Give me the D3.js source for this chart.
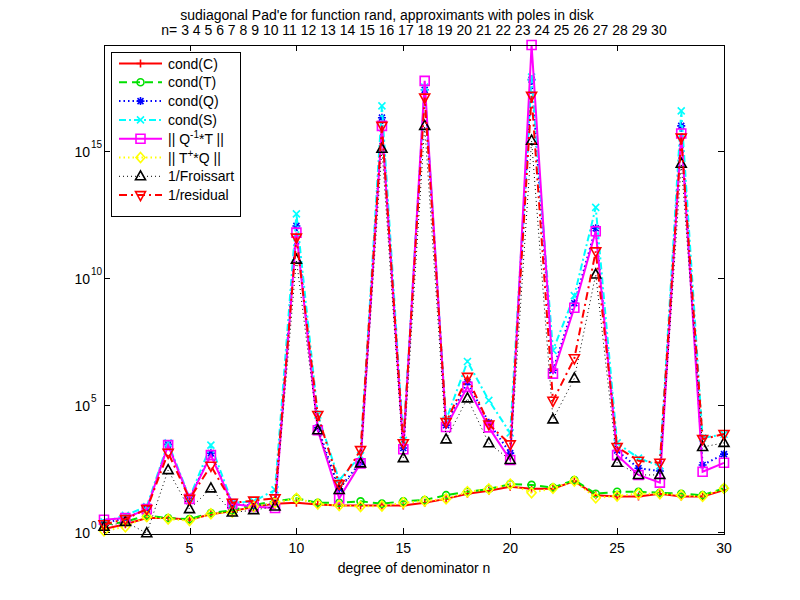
<!DOCTYPE html>
<html>
<head>
<meta charset="utf-8">
<script src="https://cdn.jsdelivr.net/npm/d3@7/dist/d3.min.js"></script>
<style>
body { margin: 0; background: #fff; }
text { font-family: "Liberation Sans", Arial, Helvetica, sans-serif; font-size: 14px; fill: #000; }
</style>
</head>
<body>
<svg width="800" height="600"></svg>
<script>
// degree of denominator n
var degree = [1, 2, 3, 4, 5, 6, 7, 8, 9, 10, 11, 12, 13, 14, 15, 16, 17, 18, 19, 20, 21, 22, 23, 24, 25, 26, 27, 28, 29, 30];

// values (log axis)
var condC = [1.3, 2.0, 3.5, 3.5, 3.0, 5.0, 6.6, 9.5, 13, 14, 12, 11, 11, 11, 11, 14, 20, 32, 42, 60, 50, 50, 100, 28, 25, 25, 32, 25, 25, 45];
var condT = [1.9, 2.5, 4.5, 3.5, 3.2, 5.6, 7.1, 11.5, 16, 21, 14, 14, 16, 13, 16, 18, 28, 38, 49, 76, 71, 56, 110, 32, 38, 38, 35, 32, 28, 52];
var condQ = [2.2, 3.5, 7.9, 2.8e3, 20, 1.26e3, 12.6, 11, 12.6, 1.1e12, 1.26e4, 50, 560, 2.0e16, 2.0e3, 2.5e17, 1.6e4, 7.9e5, 2.0e4, 1.26e3, 6.3e17, 2.3e6, 1e9, 8.9e11, 1.6e3, 320, 250, 9.5e15, 430, 1.15e3];
var condS = [2.5, 4.5, 10, 3.2e3, 22, 2.6e3, 14, 16, 45, 3.3e12, 4e4, 110, 1e3, 5.8e16, 4e3, 3.2e17, 2.5e4, 5.1e6, 1.5e5, 7.9e3, 7.9e17, 1.4e7, 2e9, 5.9e12, 3.2e3, 800, 400, 3.7e16, 5e3, 7e3];
var normQinvT = [3.0, 3.5, 7.9, 2.6e3, 20, 1.05e3, 12.6, 10, 8.7, 6.0e11, 1.0e4, 21, 500, 9.5e15, 1.8e3, 5.6e17, 1.35e4, 5.1e5, 1.3e4, 680, 1.45e19, 1.7e6, 6.6e8, 6.8e11, 1.05e3, 175, 87, 4.8e15, 235, 525];
var normTplusQ = [1.1, 1.6, 4.0, 3.2, 2.8, 5.2, 6.0, 10, 14, 21, 12.6, 11, 10, 10.5, 14, 16.6, 20, 38, 49, 76, 35, 52, 100, 22, 26, 32, 32, 28, 25, 52];
var invFroissart = [1.6, 2.5, 0.89, 270, 7.9, 52, 5.8, 7.2, 10, 5.2e10, 1e4, 45, 500, 1.2e15, 800, 9.5e15, 4.4e3, 1.8e5, 3.1e3, 680, 2.5e15, 2.7e4, 1.1e6, 1.35e10, 525, 175, 175, 3.1e14, 2.2e3, 3.2e3];
var invResidual = [2.0, 3.2, 7.9, 1.3e3, 20, 400, 14, 17, 21, 3.8e11, 4e4, 76, 1.66e3, 9.5e15, 3.1e3, 1.23e17, 2.1e4, 1.26e6, 1.7e4, 2.8e3, 1.45e17, 1.45e5, 6.8e6, 1.1e11, 2.2e3, 630, 525, 3.3e15, 4.5e3, 7.1e3];

var xTicks = [5, 10, 15, 20, 25, 30];
var yTicks = [1, 1e5, 1e10, 1e15];
var yTickExp = ["0", "5", "10", "15"];

var titleLine1 = "sudiagonal Pad'e for function rand, approximants with poles in disk";
var titleLine2 = "n= 3 4 5 6 7 8 9 10 11 12 13 14 15 16 17 18 19 20 21 22 23 24 25 26 27 28 29 30";

// plot box (matlab default axes position)
var boxL = 104, boxR = 724, boxT = 45, boxB = 534;

// marker shapes drawn around 0,0
var markers = {
    plus: "M-4,0H4M0,-4V4",
    circle: "M3.5,0A3.5,3.5 0 1,1 -3.5,0A3.5,3.5 0 1,1 3.5,0Z",
    star: "M-4,0H4M0,-4V4M-3,-3L3,3M-3,3L3,-3",
    cross: "M-3.5,-3.5L3.5,3.5M-3.5,3.5L3.5,-3.5",
    square: "M-4.5,-4.5H4.5V4.5H-4.5Z",
    diamond: "M0,-5L4.5,0L0,5L-4.5,0Z",
    triUp: "M0,-5.5L5,3.5H-5Z",
    triDown: "M0,5.5L5,-3.5H-5Z"
};

// series in plot order, style kept apart from the values
var series = [
    { label: "cond(C)", values: condC, color: "#ff0000", dash: null, width: 2, marker: "plus" },
    { label: "cond(T)", values: condT, color: "#00e000", dash: "8,5", width: 2, marker: "circle" },
    { label: "cond(Q)", values: condQ, color: "#0000ff", dash: "1.5,3", width: 2, marker: "star" },
    { label: "cond(S)", values: condS, color: "#00ffff", dash: "7,3,2,3", width: 2, marker: "cross" },
    { label: "QinvT", values: normQinvT, color: "#ff00ff", dash: null, width: 2, marker: "square" },
    { label: "TplusQ", values: normTplusQ, color: "#ffff00", dash: "1.5,3", width: 2, marker: "diamond" },
    { label: "1/Froissart", values: invFroissart, color: "#000000", dash: "1,3", width: 1, marker: "triUp" },
    { label: "1/residual", values: invResidual, color: "#ff0000", dash: "8,4,2,4", width: 2, marker: "triDown" }
];

var xScale = d3.scaleLinear()
            .domain([1, 30])
            .range([boxL, boxR]);
var yScale = d3.scaleLog()
            .domain([0.83, 1.45e19])
            .range([boxB, boxT]);

var svg = d3.select("svg");

svg.append("rect")
    .attr("width", 800)
    .attr("height", 600)
    .attr("fill", "#fff");

// tick marks inside the box, on all four sides
var ticks = svg.append("g").attr("stroke", "#000").attr("stroke-width", 1);
xTicks.forEach(function(t) {
    var x = Math.round(xScale(t)) + 0.5;
    ticks.append("line").attr("x1", x).attr("x2", x).attr("y1", boxB).attr("y2", boxB - 6);
    ticks.append("line").attr("x1", x).attr("x2", x).attr("y1", boxT).attr("y2", boxT + 6);
});
yTicks.forEach(function(t) {
    var y = Math.round(yScale(t)) + 0.5;
    ticks.append("line").attr("x1", boxL).attr("x2", boxL + 6).attr("y1", y).attr("y2", y);
    ticks.append("line").attr("x1", boxR).attr("x2", boxR - 6).attr("y1", y).attr("y2", y);
});

// tick labels
svg.append("g")
    .selectAll("text")
    .data(xTicks)
    .enter()
    .append("text")
        .attr("x", d => xScale(d))
        .attr("y", boxB + 19)
        .style("text-anchor", "middle")
        .text(d => d);

var yLab = svg.append("g")
    .selectAll("g")
    .data(yTicks)
    .enter()
    .append("g")
        .attr("transform", d => "translate(0," + yScale(d) + ")");
yLab.append("text")
    .attr("x", 90)
    .attr("y", 6)
    .style("text-anchor", "end")
    .text("10");
yLab.append("text")
    .attr("x", 91)
    .attr("y", -3)
    .style("font-size", "10px")
    .text((d, i) => yTickExp[i]);

// the series: line then markers
var line = d3.line()
    .x((d, i) => xScale(degree[i]))
    .y(d => yScale(d));

series.forEach(function(s) {
    var g = svg.append("g");
    g.append("path")
        .attr("d", line(s.values))
        .attr("fill", "none")
        .attr("stroke", s.color)
        .attr("stroke-width", s.width)
        .attr("stroke-dasharray", s.dash);
    g.selectAll(".m")
        .data(s.values)
        .enter()
        .append("path")
            .attr("class", "m")
            .attr("transform", (d, i) => "translate(" + xScale(degree[i]) + "," + yScale(d) + ")")
            .attr("d", markers[s.marker])
            .attr("fill", "none")
            .attr("stroke", s.color)
            .attr("stroke-width", 1.6);
});

// axes box
svg.append("rect")
    .attr("x", boxL + 0.5)
    .attr("y", boxT + 0.5)
    .attr("width", boxR - boxL)
    .attr("height", boxB - boxT)
    .attr("fill", "none")
    .attr("stroke", "#000");

// legend
var legend = svg.append("g").attr("transform", "translate(111,52)");
legend.append("rect")
    .attr("x", 0.5)
    .attr("y", 0.5)
    .attr("width", 129)
    .attr("height", 164)
    .attr("fill", "#fff")
    .attr("stroke", "#000");

series.forEach(function(s, i) {
    var y = 11.5 + i * 18.8;
    legend.append("line")
        .attr("x1", 8).attr("x2", 51)
        .attr("y1", y).attr("y2", y)
        .attr("stroke", s.color)
        .attr("stroke-width", s.width)
        .attr("stroke-dasharray", s.dash);
    legend.append("path")
        .attr("transform", "translate(29.5," + y + ")")
        .attr("d", markers[s.marker])
        .attr("fill", "none")
        .attr("stroke", s.color)
        .attr("stroke-width", 1.6);
    var t = legend.append("text")
        .attr("x", 57)
        .attr("y", y + 5);
    if (s.label == "QinvT") {
        t.append("tspan").text("|| Q");
        t.append("tspan").attr("dy", -6).style("font-size", "10px").text("-1");
        t.append("tspan").attr("dy", 6).text("*T ||");
    } else if (s.label == "TplusQ") {
        t.append("tspan").text("|| T");
        t.append("tspan").attr("dy", -6).style("font-size", "10px").text("+");
        t.append("tspan").attr("dy", 6).text("*Q ||");
    } else {
        t.text(s.label);
    }
});

// title, two lines
svg.append("text")
    .attr("x", 387)
    .attr("y", 20)
    .style("text-anchor", "middle")
    .text(titleLine1);
svg.append("text")
    .attr("x", 414)
    .attr("y", 35)
    .style("text-anchor", "middle")
    .text(titleLine2);

// x label
svg.append("text")
    .attr("x", 414)
    .attr("y", 573)
    .style("text-anchor", "middle")
    .text("degree of denominator n");
</script>
</body>
</html>
